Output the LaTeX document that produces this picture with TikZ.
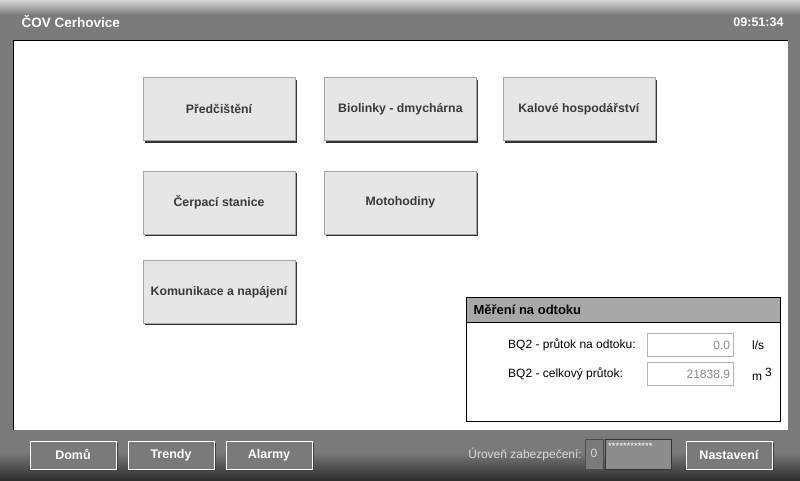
\documentclass[tikz,border=0pt]{standalone}
\usepackage{fontspec}
\setmainfont{Liberation Sans}
\usetikzlibrary{positioning,shadows}

\definecolor{framegray}{HTML}{7A7A7A}
\definecolor{framelight}{HTML}{D4D4D4}
\definecolor{framedark}{HTML}{2E2E2E}
\definecolor{btngray}{HTML}{E6E6E6}
\definecolor{btntext}{HTML}{3A3A3A}
\definecolor{headgray}{HTML}{A8A8A8}
\definecolor{valtext}{HTML}{8A8A8A}
\definecolor{seclabel}{HTML}{D8D8D8}

\tikzset{
  menubtn/.style={draw=black!35, fill=btngray, minimum width=152pt, minimum height=63pt,
    inner sep=0pt, text=btntext, font=\fontsize{12.3}{14}\selectfont\bfseries,
    drop shadow={shadow xshift=2pt, shadow yshift=-2pt, fill=black!80, opacity=1}},
  barbtn/.style={draw=white, line width=0.8pt, fill=framegray, minimum width=86pt,
    minimum height=28pt, inner sep=0pt, text=white, font=\fontsize{12.5}{14}\selectfont\bfseries,
    drop shadow={shadow xshift=1.5pt, shadow yshift=-1.5pt, fill=black!75, opacity=1}},
  valbox/.style={draw=black!30, fill=white, minimum width=86pt, minimum height=23pt,
    text width=80pt, align=right, inner sep=3pt, text=valtext,
    font=\fontsize{12}{14}\selectfont},
  lbl/.style={anchor=west, inner sep=0pt, font=\fontsize{12}{14}\selectfont},
}

\begin{document}
\begin{tikzpicture}[x=1pt,y=-1pt]
  \useasboundingbox (0,0) rectangle (800,480);

  % frame
  \fill[framegray] (0,0) rectangle (800,480);
  \shade[top color=framelight, bottom color=framegray] (0,0) rectangle (800,15);
  \shade[top color=framegray, bottom color=framedark] (0,452) rectangle (800,480);
  \node[anchor=west, text=white, font=\fontsize{13.5}{15}\selectfont\bfseries] (title) at (18,22) {ČOV Cerhovice};
  \node[anchor=east, text=white, font=\fontsize{12.5}{14}\selectfont\bfseries] (clock) at (787,22) {09:51:34};

  % main panel
  \fill[white] (13,40) rectangle (788,430);
  \draw[black, line width=1pt] (13,430) -- (13,40) -- (788,40);

  % menu
  \node[menubtn] (pred) at (219,109) {Předčištění};
  \node[menubtn, right=29pt of pred] (bio) {Biolinky - dmychárna};
  \node[menubtn, right=26pt of bio] (kal) {Kalové hospodářství};
  \node[menubtn, below=30pt of pred] (cerp) {Čerpací stanice};
  \node[menubtn, below=30pt of bio] (moto) {Motohodiny};
  \node[menubtn, below=26pt of cerp] (kom) {Komunikace a napájení};

  % mereni na odtoku
  \draw[black, fill=white] (466,297) rectangle (780,421);
  \draw[black, fill=headgray] (466,297) rectangle (780,322);
  \node[anchor=west, font=\fontsize{13}{15}\selectfont\bfseries] (mtitle) at (470,310) {Měření na odtoku};
  \node[lbl] (lflow) at (508,345) {BQ2 - průtok na odtoku:};
  \node[lbl] (ltotal) at (508,374) {BQ2 - celkový průtok:};
  \node[valbox] (vflow) at (690,345) {0.0};
  \node[valbox] (vtotal) at (690,374) {21838.9};
  \node[lbl] (uflow) at (752,345) {l/s};
  \node[lbl] (utotal) at (752,374) {m\hspace{3pt}\raisebox{4pt}{3}};

  % spodni lista
  \node[barbtn] (home) at (73,455) {Domů};
  \node[barbtn] (trend) at (171,455) {Trendy};
  \node[barbtn] (alarm) at (269,455) {Alarmy};
  \node[barbtn] (setup) at (729,455) {Nastavení};
  \node[anchor=east, text=seclabel, inner sep=0pt, font=\fontsize{12}{14}\selectfont] (sec) at (582,455) {Úroveň zabezpečení:};
  \draw[fill=framegray, draw=black!70] (585,439) rectangle (603,469);
  \node[text=seclabel, font=\fontsize{12}{14}\selectfont] (lvl) at (594,453) {0};
  \draw[fill=black!45, draw=black!80] (605,439) rectangle (671,469);
  \node[anchor=north west, text=white, inner sep=0pt, font=\fontsize{9.5}{9.5}\selectfont] (pass) at (608,443) {************};
\end{tikzpicture}
\end{document}
